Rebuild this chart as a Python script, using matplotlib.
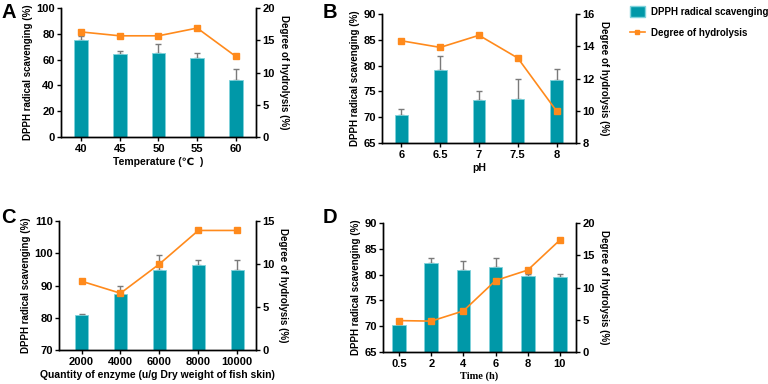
import matplotlib

matplotlib.use("Agg")
import matplotlib.pyplot as plt
import numpy as np
from matplotlib.lines import Line2D
from matplotlib.patches import Patch

BAR_COLOR = "#0098a8"
BAR_EDGE = "#7fd3dc"
LINE_COLOR = "#ff8a1c"
ERR_COLOR = "#7a7a7a"

# Panel A: temperature
temp_labels = ["40", "45", "50", "55", "60"]
temp_dpph = [75.5, 64.5, 65.5, 61.5, 44.5]
temp_err = [3.0, 2.5, 7.0, 3.5, 8.5]
temp_dh = [16.3, 15.7, 15.7, 16.9, 12.5]

# Panel B: pH
ph_labels = ["6", "6.5", "7", "7.5", "8"]
ph_dpph = [70.5, 79.2, 73.3, 73.6, 77.2]
ph_err = [1.1, 2.7, 1.7, 3.9, 2.1]
ph_dh = [14.34, 13.93, 14.68, 13.27, 9.98]

# Panel C: enzyme quantity
enz_labels = ["2000", "4000", "6000", "8000", "10000"]
enz_dpph = [80.9, 87.4, 94.8, 96.3, 94.8]
enz_err = [0.3, 2.3, 4.8, 1.6, 3.1]
enz_dh = [8.0, 6.6, 10.0, 13.9, 13.9]

# Panel D: time
time_labels = ["0.5", "2", "4", "6", "8", "10"]
time_dpph = [70.2, 82.3, 80.9, 81.4, 79.7, 79.6]
time_err = [0.5, 0.9, 1.8, 1.8, 0.4, 0.5]
time_dh = [4.87, 4.79, 6.37, 11.08, 12.7, 17.36]

SANS = ["Liberation Sans", "DejaVu Sans"]
SERIF = ["Liberation Serif", "DejaVu Serif"]
W, H = 768, 384

plt.rcParams.update({
    "font.family": SANS,
    "font.weight": "bold",
    "font.size": 8,
    "axes.linewidth": 1.0,
    "xtick.major.width": 1.0,
    "ytick.major.width": 1.0,
    "xtick.major.size": 3,
    "ytick.major.size": 3,
    "xtick.major.pad": 2,
    "ytick.major.pad": 1.5,
})


def panel(fig, rect, letter, letter_xy, labels, dpph, err, dh, ylim, yticks,
          y2lim, y2ticks, xlabel, width, xlim, xlabel_family=SANS):
    ax = fig.add_axes(rect)
    x = np.arange(len(labels))
    bottom = ylim[0]
    heights = np.array(dpph) - bottom
    ax.bar(x, heights, bottom=bottom, width=width, color=BAR_COLOR,
           edgecolor=BAR_EDGE, lw=0.6, zorder=2)
    ax.errorbar(x, dpph, yerr=[np.zeros(len(err)), err], fmt="none",
                ecolor=ERR_COLOR, elinewidth=1.0, capsize=2.5, capthick=1.0,
                zorder=1)
    ax.set_ylim(*ylim)
    ax.set_yticks(yticks)
    ax.set_xlim(*xlim)
    ax.set_xticks(x)
    ax.set_xticklabels(labels)
    ax.spines["top"].set_visible(False)
    ax.set_ylabel("DPPH radical scavenging (%)", fontweight="bold",
                  fontsize=7, labelpad=2)
    ax.set_xlabel(xlabel, fontweight="bold", family=xlabel_family, labelpad=2,
                  fontsize=7.5)
    for t in ax.get_xticklabels() + ax.get_yticklabels():
        t.set_fontweight("bold")

    ax2 = ax.twinx()
    ax2.plot(x, dh, color=LINE_COLOR, lw=1.2, marker="s", markersize=4.2,
             zorder=3)
    ax2.set_ylim(*y2lim)
    ax2.set_yticks(y2ticks)
    ax2.spines["top"].set_visible(False)
    ax2.set_ylabel("Degree of hydrolysis (%)", rotation=270, fontweight="bold",
                   fontsize=7, labelpad=10)
    for t in ax2.get_yticklabels():
        t.set_fontweight("bold")
    fig.text(letter_xy[0] / W, 1 - letter_xy[1] / H, letter, fontsize=14.5,
             fontweight="bold", va="top", ha="left")
    return ax, ax2


fig = plt.figure(figsize=(7.68, 3.84), dpi=100)

panel(fig, [0.0794, 0.643, 0.2539, 0.336], "A", (1, 3), temp_labels,
      temp_dpph, temp_err, temp_dh, (0, 100), range(0, 101, 20),
      (0, 20), range(0, 21, 5), "Temperature (\u2103  )", 0.35,
      (-0.52, 4.52))
panel(fig, [0.4974, 0.6276, 0.2526, 0.3359], "B", (323, 3), ph_labels,
      ph_dpph, ph_err, ph_dh, (65, 90), range(65, 91, 5),
      (8, 16), range(8, 17, 2), "pH", 0.33, (-0.5, 4.5))
panel(fig, [0.0768, 0.0885, 0.2565, 0.336], "C", (1, 208), enz_labels,
      enz_dpph, enz_err, enz_dh, (70, 110), range(70, 111, 10),
      (0, 15), range(0, 16, 5),
      "Quantity of enzyme (u/g Dry weight of fish skin)", 0.32,
      (-0.58, 4.48))
panel(fig, [0.4987, 0.0833, 0.2513, 0.336], "D", (323, 208), time_labels,
      time_dpph, time_err, time_dh, (65, 90), range(65, 91, 5),
      (0, 20), range(0, 21, 5), "Time (h)", 0.42, (-0.5, 5.5),
      xlabel_family=SERIF)

handles = [
    Patch(facecolor=BAR_COLOR, edgecolor=BAR_EDGE, label="DPPH radical scavenging"),
    Line2D([0], [0], color=LINE_COLOR, lw=1.2, marker="s", markersize=3.5,
           label="Degree of hydrolysis"),
]
fig.legend(handles=handles, loc="upper left", bbox_to_anchor=(630 / W, 1 - 6 / H),
           frameon=False, borderpad=0, borderaxespad=0, handlelength=1.5,
           handleheight=1.3, labelspacing=1.1, handletextpad=0.7,
           prop={"weight": "bold", "size": 7})

fig.savefig("out.png", dpi=100)
